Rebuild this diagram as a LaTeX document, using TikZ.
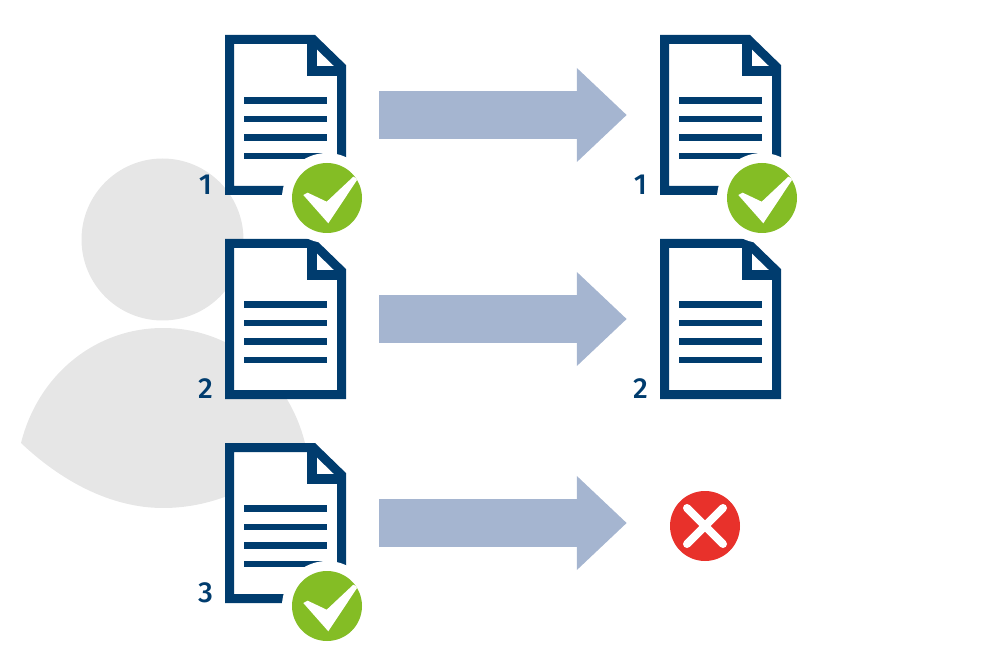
\documentclass[tikz,border=0pt]{standalone}
\usepackage{fontspec}
\setmainfont{Fira Sans}
\newfontfamily\numfont{Fira Sans Medium}
\usetikzlibrary{positioning,calc,arrows.meta}
\definecolor{docblue}{RGB}{0,60,110}
\definecolor{arrowblue}{RGB}{165,181,208}
\definecolor{okgreen}{RGB}{132,189,37}
\definecolor{nored}{RGB}{232,49,43}
\definecolor{persongrey}{RGB}{230,230,230}
\tikzstyle{doc} = [rectangle, inner sep=0pt, minimum width=121pt, minimum height=160pt, path picture={
    \begin{scope}[shift={(path picture bounding box.center)}]
        \draw [docblue, fill=white, line width=9pt, miter limit=10] (-56,-75.5) -- (27.7,-75.5) -- (56,-48) -- (56,75.5) -- (-56,75.5) -- cycle;
        \draw [docblue, line width=9.5pt] (26.5,-72) -- (26.5,-44) -- (56,-44);
        \draw [docblue, line width=6.5pt] (-41.5,-14.3) -- (41.5,-14.3) (-41.5,4) -- (41.5,4) (-41.5,22.5) -- (41.5,22.5) (-41.5,41) -- (41.5,41);
    \end{scope}}]
\tikzstyle{number} = [inner sep=0pt, text=docblue, font=\numfont\fontsize{29}{29}\selectfont]
\tikzstyle{halo} = [circle, fill=white, minimum size=90pt, inner sep=0pt]
\tikzstyle{badge} = [circle, minimum size=70pt, inner sep=0pt]
\tikzstyle{check} = [badge, fill=okgreen, path picture={
    \fill [white, shift={(path picture bounding box.center)}] (-23.7,-3) -- (-19.3,-5.3) -- (-0.3,3.7) -- (26.3,-21.3) -- (30.7,-19) -- (1.3,25.3) -- cycle;}]
\tikzstyle{cross} = [badge, fill=nored, path picture={
    \draw [white, line width=8pt, line cap=round, shift={(path picture bounding box.center)}] (-18,-18) -- (18,18) (-18,18) -- (18,-18);}]
\tikzstyle{arrow} = [arrowblue, line width=48pt, -{Triangle[length=50pt,width=91pt]}, shorten <=33pt]

\begin{document}
\begin{tikzpicture}[x=1pt,y=-1pt,node distance=204pt]
    \useasboundingbox (0,0) rectangle (991,660);

    % person behind the left column
    \fill [persongrey] (162.5,239.5) circle [radius=81];
    \fill [persongrey] (21,443) .. controls (38,375) and (95,328) .. (163,328) .. controls (231,328) and (288,375) .. (305,443) .. controls (265,485) and (215,508) .. (163,508) .. controls (110,508) and (60,480) .. (21,443) -- cycle;

    \node (doc-left-1) [doc] at (285.5,115) {};
    \node (doc-right-1) [doc] at (720.5,115) {};
    \node (doc-left-2) [doc,below of=doc-left-1] {};
    \node (doc-right-2) [doc,below of=doc-right-1] {};
    \node (doc-left-3) [doc,below of=doc-left-2] {};

    \node (num-left-1) [number] at ($(doc-left-1)+(-80,70)$) {1};
    \node (num-right-1) [number] at ($(doc-right-1)+(-80,70)$) {1};
    \node (num-left-2) [number] at ($(doc-left-2)+(-80,70)$) {2};
    \node (num-right-2) [number] at ($(doc-right-2)+(-80,70)$) {2};
    \node (num-left-3) [number] at ($(doc-left-3)+(-80,70)$) {3};

    \node (halo-left-1) [halo] at ($(doc-left-1)+(41.5,83)$) {};
    \node (halo-right-1) [halo] at ($(doc-right-1)+(41.5,83)$) {};
    \node (halo-left-3) [halo] at ($(doc-left-3)+(41.5,83)$) {};
    \node (check-left-1) [check] at (halo-left-1) {};
    \node (check-right-1) [check] at (halo-right-1) {};
    \node (check-left-3) [check] at (halo-left-3) {};
    \node (cross-right-3) [cross] at (705,526) {};

    \draw [arrow,shorten >=33pt] (doc-left-1.east) -- (doc-right-1.west);
    \draw [arrow,shorten >=33pt] (doc-left-2.east) -- (doc-right-2.west);
    \draw [arrow,shorten >=43pt] (doc-left-3.east) -- (doc-left-3.east -| cross-right-3.west);
\end{tikzpicture}
\end{document}
